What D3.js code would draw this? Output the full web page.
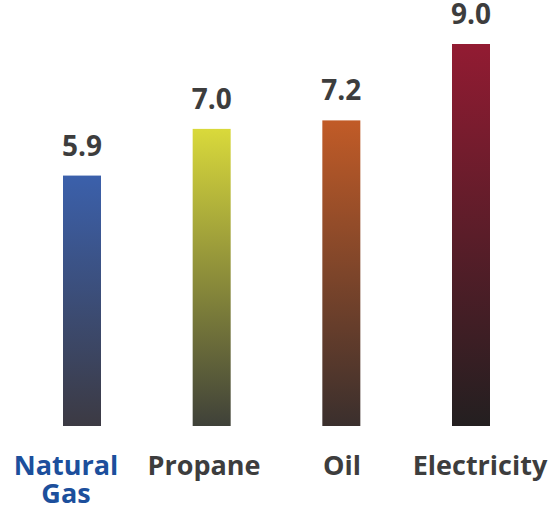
<!DOCTYPE html>
<html>
<head>
<meta charset="utf-8">
<script src="https://cdn.jsdelivr.net/npm/d3@7"></script>
<style>
  body { margin: 0; background: #fff; }
  text { font-family: "Open Sans", sans-serif; font-weight: 700; }
</style>
</head>
<body>
<div id="chart-area"></div>
<script>

// data
let categories = ["Natural Gas", "Propane", "Oil", "Electricity"];
let values = [5.9, 7.0, 7.2, 9.0];
let topColors = ["#3b60ab", "#d9d93b", "#c15b27", "#921b32"];
let bottomColors = ["#3c3a43", "#3f4139", "#3a2f2d", "#231f20"];
let labelColors = ["#1c4f9c", "#3d3d3d", "#3d3d3d", "#3d3d3d"];

let width = 554;
let height = 507;
let baseline = 426;

let svg = d3.select("#chart-area").append("svg")
	.attr("width", width)
	.attr("height", height);

// scales
let x = d3.scalePoint()
	.domain(categories)
	.range([82, 471]);

let xLabel = d3.scalePoint()
	.domain(categories)
	.range([66, 480]);

let y = d3.scaleLinear()
	.domain([0, 9])
	.range([baseline, 44]);

let barWidth = 38;

// one vertical gradient per bar
let defs = svg.append("defs");
categories.forEach((c, i) => {
	let g = defs.append("linearGradient")
		.attr("id", "grad" + i)
		.attr("x1", 0).attr("y1", 0)
		.attr("x2", 0).attr("y2", 1);
	g.append("stop").attr("offset", "0%").attr("stop-color", topColors[i]);
	g.append("stop").attr("offset", "100%").attr("stop-color", bottomColors[i]);
});

let data = categories.map((c, i) => ({name: c, value: values[i], idx: i}));

svg.selectAll("rect.bar")
	.data(data)
	.enter().append("rect")
	.attr("class", "bar")
	.attr("x", d => x(d.name) - barWidth / 2)
	.attr("y", d => y(d.value))
	.attr("width", barWidth)
	.attr("height", d => baseline - y(d.value))
	.attr("fill", d => "url(#grad" + d.idx + ")");

// value labels
svg.selectAll("text.value")
	.data(data)
	.enter().append("text")
	.attr("class", "value")
	.attr("x", d => x(d.name))
	.attr("y", d => y(d.value) - 20)
	.attr("text-anchor", "middle")
	.attr("font-size", 28)
	.attr("fill", "#3d3d3d")
	.text(d => d.value.toFixed(1));

// category labels
let labels = svg.selectAll("text.cat")
	.data(data)
	.enter().append("text")
	.attr("class", "cat")
	.attr("x", d => xLabel(d.name))
	.attr("y", 475)
	.attr("text-anchor", "middle")
	.attr("font-size", 27)
	.attr("fill", d => labelColors[d.idx]);

labels.each(function(d) {
	let words = d.name === "Natural Gas" ? ["Natural", "Gas"] : [d.name];
	words.forEach((w, k) => {
		d3.select(this).append("tspan")
			.attr("x", xLabel(d.name))
			.attr("dy", k === 0 ? 0 : 28)
			.text(w);
	});
});

</script>
</body>
</html>
